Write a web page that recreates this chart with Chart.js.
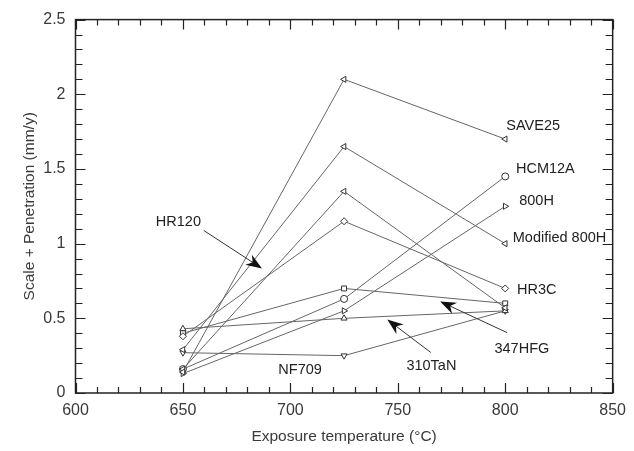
<!DOCTYPE html>
<html>
<head>
<meta charset="utf-8">
<script src="https://cdn.jsdelivr.net/npm/chart.js@4.4.1/dist/chart.umd.min.js"></script>
<style>
  html, body { margin: 0; padding: 0; background: #fff; }
  #wrap { width: 634px; height: 451px; position: relative; }
</style>
</head>
<body>
<div id="wrap"><canvas id="c" width="634" height="451"></canvas></div>
<script>
// ---- data ----
const temperatures = [650, 725, 800];
const xTickValues = [600, 650, 700, 750, 800, 850];
const yTickValues = [0, 0.5, 1, 1.5, 2, 2.5];
const seriesNames = ['SAVE25', 'Modified 800H', 'HR120', 'HR3C', '347HFG', 'HCM12A', '800H', '310TaN', 'NF709'];
const save25     = [0.14, 2.10, 1.70];
const mod800H    = [0.29, 1.65, 1.00];
const hr120      = [0.16, 1.35, 0.57];
const hr3c       = [0.38, 1.15, 0.70];
const hfg347     = [0.40, 0.70, 0.60];
const hcm12a     = [0.16, 0.63, 1.45];
const h800       = [0.13, 0.55, 1.25];
const tan310     = [0.43, 0.50, 0.55];
const nf709      = [0.27, 0.25, 0.55];
const seriesValues = [save25, mod800H, hr120, hr3c, hfg347, hcm12a, h800, tan310, nf709];

// ---- styles ----
const markerStyles = [
  {s:'triangle', r:-90}, {s:'triangle', r:-90}, {s:'triangle', r:-90},
  {s:'rectRot', r:0}, {s:'rect', r:0}, {s:'circle', r:0},
  {s:'triangle', r:90}, {s:'triangle', r:0}, {s:'triangle', r:180}
];

const datasets = seriesValues.map((vals, i) => ({
  label: seriesNames[i],
  data: temperatures.map((t, j) => ({x: t, y: vals[j]})),
  borderColor: '#666',
  borderWidth: 1,
  pointStyle: markerStyles[i].s,
  rotation: markerStyles[i].r,
  pointRadius: 3.5,
  pointBorderColor: '#333',
  pointBackgroundColor: '#fff',
  pointBorderWidth: 1,
  tension: 0,
  fill: false
}));

const annotations = {
  texts: [
    {t:'SAVE25', x:800.5, y:1.79},
    {t:'HCM12A', x:805, y:1.50},
    {t:'800H', x:806.5, y:1.285},
    {t:'Modified 800H', x:803.5, y:1.035},
    {t:'HR3C', x:805.5, y:0.688},
    {t:'347HFG', x:795, y:0.293},
    {t:'310TaN', x:754, y:0.179},
    {t:'NF709', x:694.4, y:0.157},
    {t:'HR120', x:637.4, y:1.147}
  ],
  arrows: [
    {x1:659.7, y1:1.088, x2:686.8, y2:0.834},
    {x1:800.9, y1:0.404, x2:769.7, y2:0.613},
    {x1:765.4, y1:0.271, x2:745.1, y2:0.492}
  ]
};

const fontFamily = '"Liberation Sans", Arial, Helvetica, sans-serif';

const framePlugin = {
  id: 'frameTicks',
  afterDatasetsDraw(chart) {
    const {ctx, chartArea: a, scales: {x, y}} = chart;
    ctx.save();
    // annotations
    ctx.fillStyle = '#222';
    ctx.font = '14.5px ' + fontFamily;
    ctx.textBaseline = 'middle';
    ctx.textAlign = 'left';
    annotations.texts.forEach(o => {
      ctx.fillText(o.t, x.getPixelForValue(o.x), y.getPixelForValue(o.y));
    });
    ctx.strokeStyle = '#333';
    ctx.lineWidth = 1;
    annotations.arrows.forEach(o => {
      const x1 = x.getPixelForValue(o.x1), y1 = y.getPixelForValue(o.y1);
      const x2 = x.getPixelForValue(o.x2), y2 = y.getPixelForValue(o.y2);
      const ang = Math.atan2(y2 - y1, x2 - x1);
      const L = 16, W = 6;
      ctx.beginPath(); ctx.moveTo(x1, y1);
      ctx.lineTo(x2 - Math.cos(ang) * 8, y2 - Math.sin(ang) * 8); ctx.stroke();
      const bx = x2 - Math.cos(ang) * L, by = y2 - Math.sin(ang) * L;
      ctx.beginPath();
      ctx.moveTo(x2, y2);
      ctx.lineTo(bx + Math.sin(ang) * W, by - Math.cos(ang) * W);
      ctx.lineTo(x2 - Math.cos(ang) * 11, y2 - Math.sin(ang) * 11);
      ctx.lineTo(bx - Math.sin(ang) * W, by + Math.cos(ang) * W);
      ctx.closePath();
      ctx.fillStyle = '#111';
      ctx.fill();
    });
    // frame
    ctx.strokeStyle = '#222';
    ctx.lineWidth = 1.5;
    ctx.strokeRect(a.left, a.top, a.right - a.left, a.bottom - a.top);
    // inward ticks
    ctx.lineWidth = 1.2;
    for (let v = x.min; v <= x.max + 1e-6; v += 10) {
      const px = Math.round(x.getPixelForValue(v)) + 0.5;
      const major = Math.abs(v % 50) < 1e-6;
      const len = major ? 10 : 6;
      ctx.beginPath();
      ctx.moveTo(px, a.bottom); ctx.lineTo(px, a.bottom - len);
      ctx.moveTo(px, a.top); ctx.lineTo(px, a.top + len);
      ctx.stroke();
    }
    for (let i = 0; i <= 25; i++) {
      const v = i * 0.1;
      const py = Math.round(y.getPixelForValue(v)) + 0.5;
      const major = i % 5 === 0;
      const len = major ? 10 : 7;
      ctx.beginPath();
      ctx.moveTo(a.left, py); ctx.lineTo(a.left + len, py);
      ctx.moveTo(a.right, py); ctx.lineTo(a.right - len, py);
      ctx.stroke();
    }
    ctx.restore();
  }
};

new Chart(document.getElementById('c'), {
  type: 'line',
  data: { datasets },
  options: {
    responsive: false,
    animation: false,
    layout: { padding: { top: 16, right: 21, left: 0, bottom: 0 } },
    plugins: { legend: { display: false }, tooltip: { enabled: false } },
    scales: {
      x: {
        type: 'linear', min: 600, max: 850,
        afterBuildTicks: s => { s.ticks = xTickValues.map(v => ({value: v})); },
        afterFit: s => { s.height = 58; },
        grid: { display: false, drawTicks: false },
        border: { display: false },
        ticks: { color: '#3a3a3a', font: { family: fontFamily, size: 16 }, padding: 8, maxRotation: 0,
                 callback: v => String(v) },
        title: { display: true, text: 'Exposure temperature (°C)', color: '#3a3a3a',
                 font: { family: fontFamily, size: 15.5 }, padding: { top: 8, bottom: 5 } }
      },
      y: {
        type: 'linear', min: 0, max: 2.5,
        afterBuildTicks: s => { s.ticks = yTickValues.map(v => ({value: v})); },
        afterFit: s => { s.width = 75.5; },
        grid: { display: false, drawTicks: false },
        border: { display: false },
        ticks: { color: '#3a3a3a', font: { family: fontFamily, size: 16 }, padding: 10,
                 callback: v => String(v) },
        title: { display: true, text: 'Scale + Penetration (mm/y)', color: '#3a3a3a',
                 font: { family: fontFamily, size: 15.5 }, padding: { top: 20, bottom: 0 } }
      }
    }
  },
  plugins: [framePlugin]
});
</script>
</body>
</html>
